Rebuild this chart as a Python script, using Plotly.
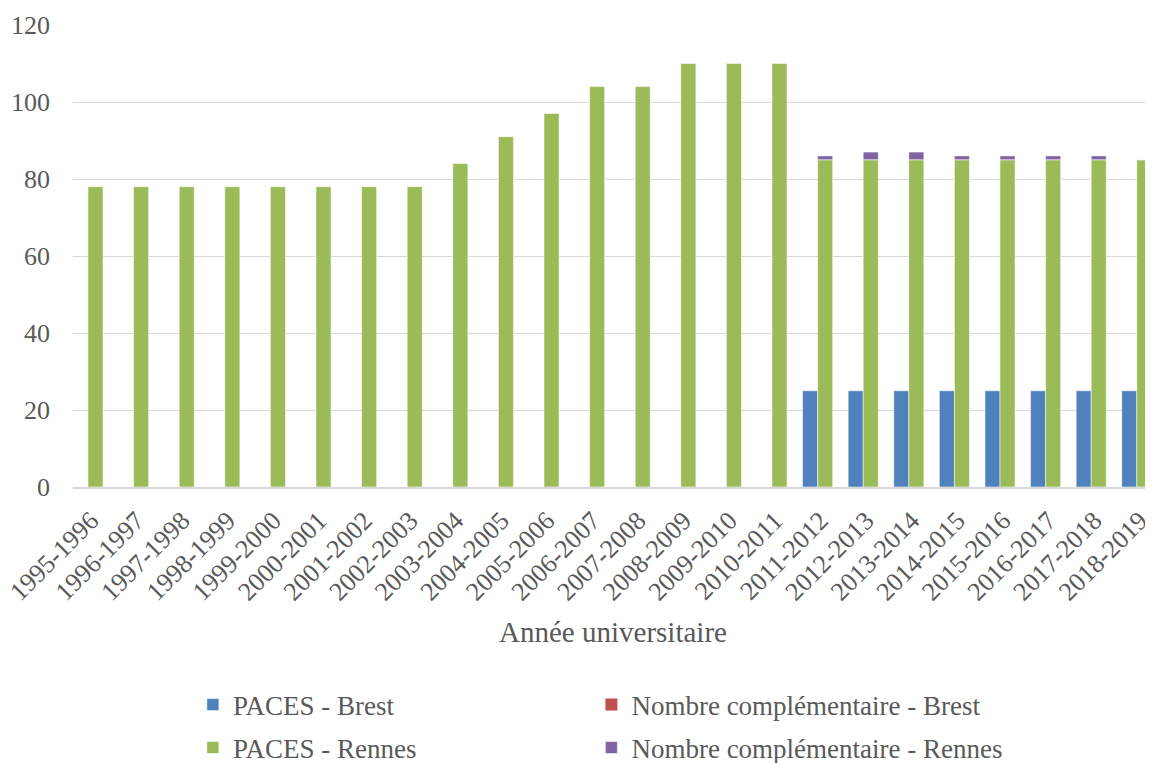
import plotly.graph_objects as go

# Années universitaires
annees = [
    "1995-1996", "1996-1997", "1997-1998", "1998-1999", "1999-2000", "2000-2001",
    "2001-2002", "2002-2003", "2003-2004", "2004-2005", "2005-2006", "2006-2007",
    "2007-2008", "2008-2009", "2009-2010", "2010-2011", "2011-2012", "2012-2013",
    "2013-2014", "2014-2015", "2015-2016", "2016-2017", "2017-2018", "2018-2019",
]

paces_brest = [None] * 16 + [25, 25, 25, 25, 25, 25, 25, 25]
compl_brest = [None] * 16 + [0, 0, 0, 0, 0, 0, 0, 0]
paces_rennes = [78, 78, 78, 78, 78, 78, 78, 78, 84, 91, 97, 104,
                104, 110, 110, 110, 85, 85, 85, 85, 85, 85, 85, 85]
compl_rennes = [None] * 16 + [1, 2, 2, 1, 1, 1, 1, 0]

FONT = "Liberation Serif"
GREY = "#595959"
BAR_W = 0.33
EDGE = dict(color="rgba(255,255,255,0.7)", width=0.75)

# the page adds an 8px body margin, so the figure is 8px smaller than the window
W, H = 1145, 755

fig = go.Figure()

fig.add_trace(go.Bar(
    x=annees, y=paces_brest, name="PACES - Brest",
    width=BAR_W, offset=-BAR_W, marker=dict(color="#4F81BD", line=EDGE),
    legend="legend",
))
fig.add_trace(go.Bar(
    x=annees, y=compl_brest, base=paces_brest, name="Nombre complémentaire - Brest",
    width=BAR_W, offset=-BAR_W, marker=dict(color="#C0504D", line=dict(width=0)),
    legend="legend2",
))
fig.add_trace(go.Bar(
    x=annees, y=paces_rennes, name="PACES - Rennes",
    width=BAR_W, offset=0, marker=dict(color="#9BBB59", line=EDGE),
    legend="legend3",
))
fig.add_trace(go.Bar(
    x=annees, y=compl_rennes,
    base=[p if c is not None else None for p, c in zip(paces_rennes, compl_rennes)],
    name="Nombre complémentaire - Rennes",
    width=BAR_W, offset=0, marker=dict(color="#8064A2", line=EDGE),
    legend="legend4",
))

legend_style = dict(
    orientation="h", xref="paper", yref="container", xanchor="left", yanchor="middle",
    font=dict(family=FONT, size=27, color=GREY), bgcolor="rgba(0,0,0,0)",
    itemwidth=30,
)
col1, col2 = 0.111, 0.48
row1, row2 = 1 - 697 / H, 1 - 740 / H

fig.update_layout(
    width=W, height=H,
    barmode="overlay",
    plot_bgcolor="white", paper_bgcolor="white",
    margin=dict(l=65, r=0, t=17, b=276),
    font=dict(family=FONT, size=26, color=GREY),
    xaxis=dict(
        type="category", range=[-0.329, 23.355],
        tickangle=-45, showgrid=False, ticks="",
        showline=True, linecolor="#D9D9D9", linewidth=2,
        tickfont=dict(family=FONT, size=26, color=GREY),
        ticklabelshift=3, ticklabelstandoff=6,
        title=dict(text="Année universitaire", standoff=16,
                   font=dict(family=FONT, size=29, color=GREY)),
        automargin=False,
    ),
    yaxis=dict(
        range=[0, 120], dtick=20, showgrid=True, gridcolor="#D9D9D9", gridwidth=1,
        zeroline=False, ticks="", ticklabelstandoff=22,
        tickfont=dict(family=FONT, size=26, color=GREY),
        automargin=False,
    ),
    legend=dict(legend_style, x=col1, y=row1),
    legend2=dict(legend_style, x=col2, y=row1),
    legend3=dict(legend_style, x=col1, y=row2),
    legend4=dict(legend_style, x=col2, y=row2),
    showlegend=True,
)

fig.write_html("out.html")
